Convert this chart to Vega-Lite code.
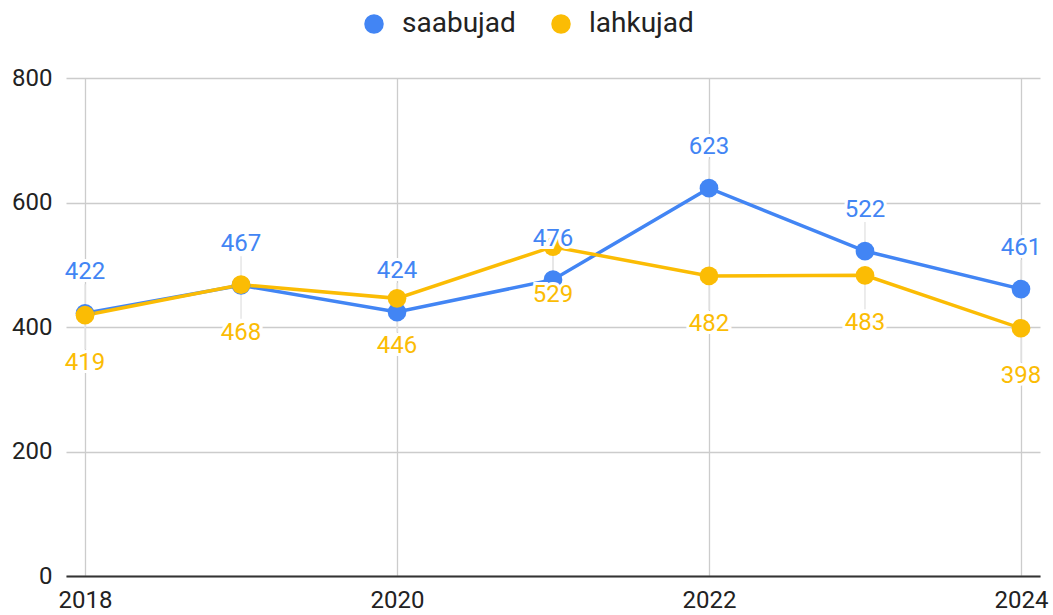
{
  "$schema": "https://vega.github.io/schema/vega-lite/v6.json",
  "autosize": "none",
  "width": 974,
  "height": 498,
  "padding": {"left": 66, "top": 78, "right": 13, "bottom": 39},
  "background": "white",
  "config": {
    "view": {"stroke": null},
    "font": "Roboto",
    "axis": {"labelFont": "Roboto", "labelFontSize": 24, "labelColor": "#222222", "title": null, "ticks": false, "gridColor": "#cccccc", "gridWidth": 1.3}
  },
  "data": {
    "values": [
      {"year": 2018, "series": "saabujad", "value": 422},
      {"year": 2019, "series": "saabujad", "value": 467},
      {"year": 2020, "series": "saabujad", "value": 424},
      {"year": 2021, "series": "saabujad", "value": 476},
      {"year": 2022, "series": "saabujad", "value": 623},
      {"year": 2023, "series": "saabujad", "value": 522},
      {"year": 2024, "series": "saabujad", "value": 461},
      {"year": 2018, "series": "lahkujad", "value": 419},
      {"year": 2019, "series": "lahkujad", "value": 468},
      {"year": 2020, "series": "lahkujad", "value": 446},
      {"year": 2021, "series": "lahkujad", "value": 529},
      {"year": 2022, "series": "lahkujad", "value": 482},
      {"year": 2023, "series": "lahkujad", "value": 483},
      {"year": 2024, "series": "lahkujad", "value": 398}
    ]
  },
  "encoding": {
    "x": {
      "field": "year", "type": "quantitative",
      "scale": {"domain": [2017.878, 2024.122], "nice": false, "zero": false},
      "axis": {"values": [2018, 2020, 2022, 2024], "format": "d", "grid": true, "domain": true, "domainColor": "#333333", "domainWidth": 2, "labelPadding": 12, "labelFlush": false}
    },
    "y": {
      "field": "value", "type": "quantitative",
      "scale": {"domain": [0, 800], "nice": false},
      "axis": {"values": [0, 200, 400, 600, 800], "grid": true, "domain": false, "labelPadding": 14}
    }
  },
  "layer": [
    {
      "transform": [{"filter": "datum.series === 'saabujad'"}],
      "mark": {"type": "rule", "color": "#e6e6e6", "strokeWidth": 1.5, "yOffset": -29},
      "encoding": {"y2": {"field": "value"}}
    },
    {
      "transform": [{"filter": "datum.series === 'lahkujad'"}],
      "mark": {"type": "rule", "color": "#e6e6e6", "strokeWidth": 1.5, "y2Offset": 34},
      "encoding": {"y2": {"field": "value"}}
    },
    {
      "transform": [{"filter": "datum.series === 'saabujad'"}],
      "mark": {"type": "line", "color": "#4285F4", "strokeWidth": 3.5},
      "encoding": {}
    },
    {
      "transform": [{"filter": "datum.series === 'lahkujad'"}],
      "mark": {"type": "line", "color": "#FBBC04", "strokeWidth": 3.5},
      "encoding": {}
    },
    {
      "mark": {"type": "point", "filled": true, "opacity": 1, "size": 350},
      "encoding": {
        "color": {
          "field": "series", "type": "nominal",
          "scale": {"domain": ["saabujad", "lahkujad"], "range": ["#4285F4", "#FBBC04"]},
          "legend": {
            "title": null, "orient": "none", "direction": "horizontal",
            "legendX": 294, "legendY": -68,
            "symbolType": "circle", "symbolSize": 380, "symbolOpacity": 1,
            "labelFont": "Roboto", "labelFontSize": 28, "labelColor": "#222222",
            "labelOffset": 14, "columnPadding": 31
          }
        }
      }
    },
    {
      "transform": [{"filter": "datum.series === 'saabujad'"}],
      "mark": {"type": "text", "fontSize": 24, "font": "Roboto", "baseline": "middle", "dy": -41, "color": "white", "stroke": "white", "strokeWidth": 6},
      "encoding": {"text": {"field": "value", "type": "quantitative"}}
    },
    {
      "transform": [{"filter": "datum.series === 'lahkujad'"}],
      "mark": {"type": "text", "fontSize": 24, "font": "Roboto", "baseline": "middle", "dy": 48, "color": "white", "stroke": "white", "strokeWidth": 6},
      "encoding": {"text": {"field": "value", "type": "quantitative"}}
    },
    {
      "transform": [{"filter": "datum.series === 'saabujad'"}],
      "mark": {"type": "text", "fontSize": 24, "font": "Roboto", "baseline": "middle", "dy": -41, "color": "#4285F4"},
      "encoding": {"text": {"field": "value", "type": "quantitative"}}
    },
    {
      "transform": [{"filter": "datum.series === 'lahkujad'"}],
      "mark": {"type": "text", "fontSize": 24, "font": "Roboto", "baseline": "middle", "dy": 48, "color": "#FBBC04"},
      "encoding": {"text": {"field": "value", "type": "quantitative"}}
    }
  ]
}
